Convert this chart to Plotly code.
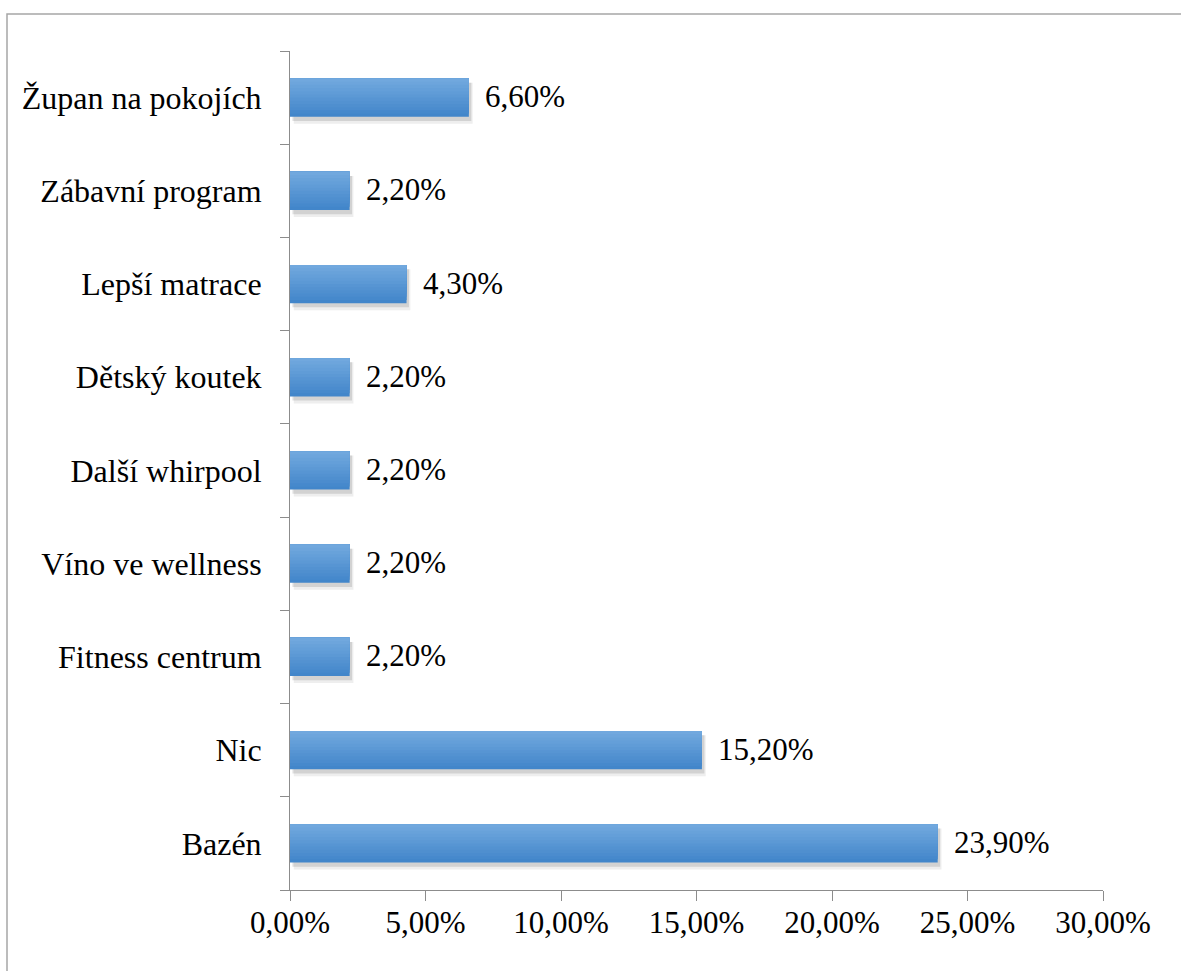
import plotly.graph_objects as go

# Survey answers, listed from the bottom bar to the top bar
categories = [
    "Bazén",
    "Nic",
    "Fitness centrum",
    "Víno ve wellness",
    "Další whirpool",
    "Dětský koutek",
    "Lepší matrace",
    "Zábavní program",
    "Župan na pokojích",
]
shares = [23.9, 15.2, 2.2, 2.2, 2.2, 2.2, 4.3, 2.2, 6.6]  # percent
x_ticks = [0, 5, 10, 15, 20, 25, 30]

W, H = 1181, 971
ML, MR, MT, MB = 290, 78, 51, 81
FONT = "'Times New Roman', Tinos, 'Liberation Serif', 'DejaVu Serif', serif"
CAT_SIZE = 32
NUM_SIZE = 31

BAR_W = 0.41
fig = go.Figure()

# soft drop shadow under each bar
for dy, dx, alpha, grow in [(-0.06, 0.14, 0.08, 0.03), (-0.045, 0.09, 0.14, 0.0)]:
    fig.add_trace(go.Bar(
        y=categories, x=shares, base=dx, orientation="h",
        width=BAR_W + grow, offset=-BAR_W / 2 + dy - grow / 2,
        marker=dict(color=f"rgba(40,40,40,{alpha})", line_width=0),
        hoverinfo="skip", showlegend=False,
    ))

# vertical colour gradient: darker at the bottom, lighter at the top.
# Each layer runs from its start up to the top edge, so layers overlap without seams.
bottom_rgb = (66, 134, 202)
top_rgb = (113, 168, 222)
n_strips = 12
strip = BAR_W / n_strips
for k in range(n_strips):
    t = k / (n_strips - 1)
    rgb = tuple(round(b + (tp - b) * t) for b, tp in zip(bottom_rgb, top_rgb))
    fig.add_trace(go.Bar(
        y=categories, x=shares, orientation="h",
        width=BAR_W - k * strip, offset=-BAR_W / 2 + k * strip,
        marker=dict(color="rgb(%d,%d,%d)" % rgb, line_width=0),
        hoverinfo="skip", showlegend=False,
    ))

# value labels to the right of each bar
for cat, val in zip(categories, shares):
    fig.add_annotation(
        x=val, y=cat, text=f"{val:.2f}%".replace(".", ","),
        xanchor="left", yanchor="middle", xshift=14, yshift=1,
        showarrow=False, font=dict(family=FONT, size=NUM_SIZE, color="black"),
    )

# outer frame of the chart
pw, ph = W - ML - MR, H - MT - MB
fig.add_shape(
    type="rect", xref="paper", yref="paper",
    x0=(7 - ML) / pw, x1=(W + 5 - ML) / pw,
    y0=1 - (H + 5 - MT) / ph, y1=1 - (14 - MT) / ph,
    line=dict(color="#a6a6a6", width=1.5), fillcolor="rgba(0,0,0,0)", layer="below",
)

fig.update_layout(
    width=W, height=H,
    margin=dict(l=ML, r=MR, t=MT, b=MB, pad=0),
    barmode="overlay",
    paper_bgcolor="white", plot_bgcolor="white",
    font=dict(family=FONT, size=NUM_SIZE, color="black"),
    xaxis=dict(
        range=[0, 30], tickvals=x_ticks,
        ticktext=[f"{v:.2f}%".replace(".", ",") for v in x_ticks],
        showgrid=False, zeroline=False,
        showline=True, linecolor="#8c8c8c", linewidth=1,
        ticks="outside", ticklen=10, tickcolor="#8c8c8c", tickwidth=1,
        ticklabelstandoff=-5,
        tickfont=dict(family=FONT, size=NUM_SIZE, color="black"),
    ),
    yaxis=dict(
        type="category", categoryorder="array", categoryarray=categories,
        range=[-0.5, len(categories) - 0.5],
        tickson="boundaries",
        showgrid=False, zeroline=False,
        showline=True, linecolor="#8c8c8c", linewidth=1,
        ticks="outside", ticklen=9, tickcolor="#8c8c8c", tickwidth=1,
        ticklabelstandoff=21,
        tickfont=dict(family=FONT, size=CAT_SIZE, color="black"),
    ),
)

fig.write_html("out.html")
